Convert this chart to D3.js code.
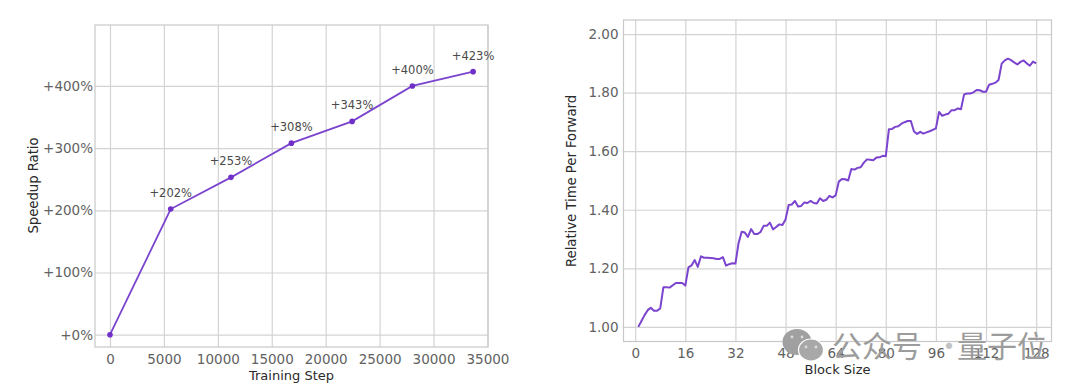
<!DOCTYPE html>
<html><head><meta charset="utf-8">
<script src="https://cdn.jsdelivr.net/npm/d3@7"></script>
<style>
html,body{margin:0;padding:0;background:#fff;overflow:hidden}
text{font-family:"DejaVu Sans",sans-serif}
</style></head><body>
<svg id="c" width="1080" height="389"></svg>
<script>
const trainingSteps=[0,5630,11220,16820,22450,28040,33670];
const speedupRatio=[0,202,253,308,343,400,423];
const speedupTicks=[0,100,200,300,400];
const stepTicks=[0,5000,10000,15000,20000,25000,30000,35000];
const relativeTime=[1.00,1.02,1.04,1.057,1.065,1.055,1.055,1.063,1.135,1.135,1.134,1.142,1.15,1.15,1.15,1.141,
1.203,1.21,1.228,1.205,1.241,1.236,1.236,1.235,1.234,1.232,1.232,1.238,1.209,1.214,1.217,1.216,
1.286,1.325,1.322,1.307,1.334,1.317,1.317,1.324,1.345,1.345,1.356,1.333,1.341,1.35,1.348,1.367,
1.416,1.418,1.43,1.411,1.413,1.425,1.423,1.43,1.423,1.421,1.439,1.43,1.434,1.447,1.442,1.449,
1.496,1.505,1.504,1.50,1.539,1.537,1.543,1.545,1.561,1.572,1.571,1.569,1.578,1.579,1.584,1.583,
1.675,1.676,1.683,1.685,1.694,1.699,1.703,1.703,1.667,1.659,1.666,1.66,1.664,1.668,1.673,1.678,
1.734,1.721,1.725,1.728,1.74,1.74,1.746,1.743,1.794,1.797,1.797,1.801,1.809,1.808,1.803,1.803,
1.827,1.83,1.834,1.843,1.899,1.91,1.916,1.911,1.903,1.896,1.905,1.91,1.90,1.892,1.906,1.90];
const blockSizes=relativeTime.map((_,i)=>i+1);
const blockTicks=[0,16,32,48,64,80,96,112,128];
const timeTicks=[1.0,1.2,1.4,1.6,1.8,2.0];

const PURPLE="#7b44cf", GRID="#d3d3d3", BORDER="#c8c8c8", TICK="#626262", TITLE="#2a2a2a";
const svg=d3.select("#c");

function panel(o){
  const g=svg.append("g");
  const x=d3.scaleLinear().domain(o.xDomain).range([o.l,o.r]);
  const y=d3.scaleLinear().domain(o.yDomain).range([o.b,o.t]);
  const xa=g.append("g").attr("transform",`translate(0,${o.b})`)
    .call(d3.axisBottom(x).tickValues(o.xTicks).tickFormat(d3.format("d")).tickSize(-(o.b-o.t)).tickPadding(7));
  const ya=g.append("g").attr("transform",`translate(${o.l},0)`)
    .call(d3.axisLeft(y).tickValues(o.yTicks).tickFormat(o.yFmt).tickSize(-(o.r-o.l)).tickPadding(o.yPad));
  [xa,ya].forEach(a=>{
    a.select(".domain").remove();
    a.selectAll("line").attr("stroke",GRID).attr("stroke-width",1.2);
    a.selectAll("text").attr("fill",TICK).style("font-size","13.5px");
  });
  g.append("rect").attr("x",o.l).attr("y",o.t).attr("width",o.r-o.l).attr("height",o.b-o.t)
    .attr("fill","none").attr("stroke",BORDER).attr("stroke-width",1.2);
  g.append("text").attr("x",(o.l+o.r)/2).attr("y",o.xTitleY).attr("text-anchor","middle")
    .attr("fill",TITLE).style("font-size","13px").text(o.xTitle);
  g.append("text").attr("transform",`translate(${o.yTitleX},${o.yTitleC}) rotate(-90)`)
    .attr("text-anchor","middle").attr("fill",TITLE).style("font-size","13.2px").text(o.yTitle);
  return {g,x,y};
}

const L=panel({l:95,r:488,t:25,b:347,xDomain:[-1390,35050],yDomain:[-19.8,498],yPad:2,
  xTicks:stepTicks,yTicks:speedupTicks,yFmt:d=>"+"+d+"%",
  xTitle:"Training Step",xTitleY:380,yTitle:"Speedup Ratio",yTitleX:37.5,yTitleC:185.5});
const pts=trainingSteps.map((s,i)=>[s,speedupRatio[i]]);
L.g.append("path").datum(pts).attr("fill","none").attr("stroke",PURPLE).attr("stroke-width",1.8)
  .attr("d",d3.line().x(d=>L.x(d[0])).y(d=>L.y(d[1])));
L.g.selectAll("circle.m").data(pts).join("circle").attr("class","m")
  .attr("cx",d=>L.x(d[0])).attr("cy",d=>L.y(d[1])).attr("r",2.8).attr("fill","#7030c8");
L.g.selectAll("text.a").data(pts.slice(1)).join("text").attr("class","a")
  .attr("x",d=>L.x(d[0])).attr("y",d=>L.y(d[1])-12).attr("text-anchor","middle")
  .attr("fill","#4a4a4a").style("font-size","11.5px").text(d=>"+"+d[1]+"%");

const R=panel({l:623.5,r:1051.5,t:20,b:341.5,xDomain:[-3.73,132.9],yDomain:[0.95,2.048],yPad:5,
  xTicks:blockTicks,yTicks:timeTicks,yFmt:d3.format(".2f"),
  xTitle:"Block Size",xTitleY:374,yTitle:"Relative Time Per Forward",yTitleX:576,yTitleC:181});
R.g.append("path").datum(relativeTime).attr("fill","none").attr("stroke",PURPLE).attr("stroke-width",2)
  .attr("stroke-linejoin","round")
  .attr("d",d3.line().x((d,i)=>R.x(blockSizes[i])).y(d=>R.y(d)));

// watermark
const w=svg.append("g");
w.append("ellipse").attr("cx",797).attr("cy",342).attr("rx",14.5).attr("ry",13).attr("fill","#a0a0a0");
w.append("ellipse").attr("cx",811).attr("cy",350).attr("rx",12.5).attr("ry",11).attr("fill","#a8a8a8").attr("stroke","#fff").attr("stroke-width",1.2);
[[792,337],[802,337],[806,347],[816,347]].forEach(e=>w.append("circle").attr("cx",e[0]).attr("cy",e[1]).attr("r",1.4).attr("fill","#dcdcdc"));
const wmStyle=s=>s.attr("y",357).attr("fill","#9c9c9c").style("font-family",'"Noto Sans CJK SC"').style("font-size","30px");
wmStyle(w.append("text").attr("x",832)).text("公众号");
wmStyle(w.append("text").attr("x",934)).attr("opacity",0.6).text("·");
wmStyle(w.append("text").attr("x",957)).text("量子位");
</script></body></html>
